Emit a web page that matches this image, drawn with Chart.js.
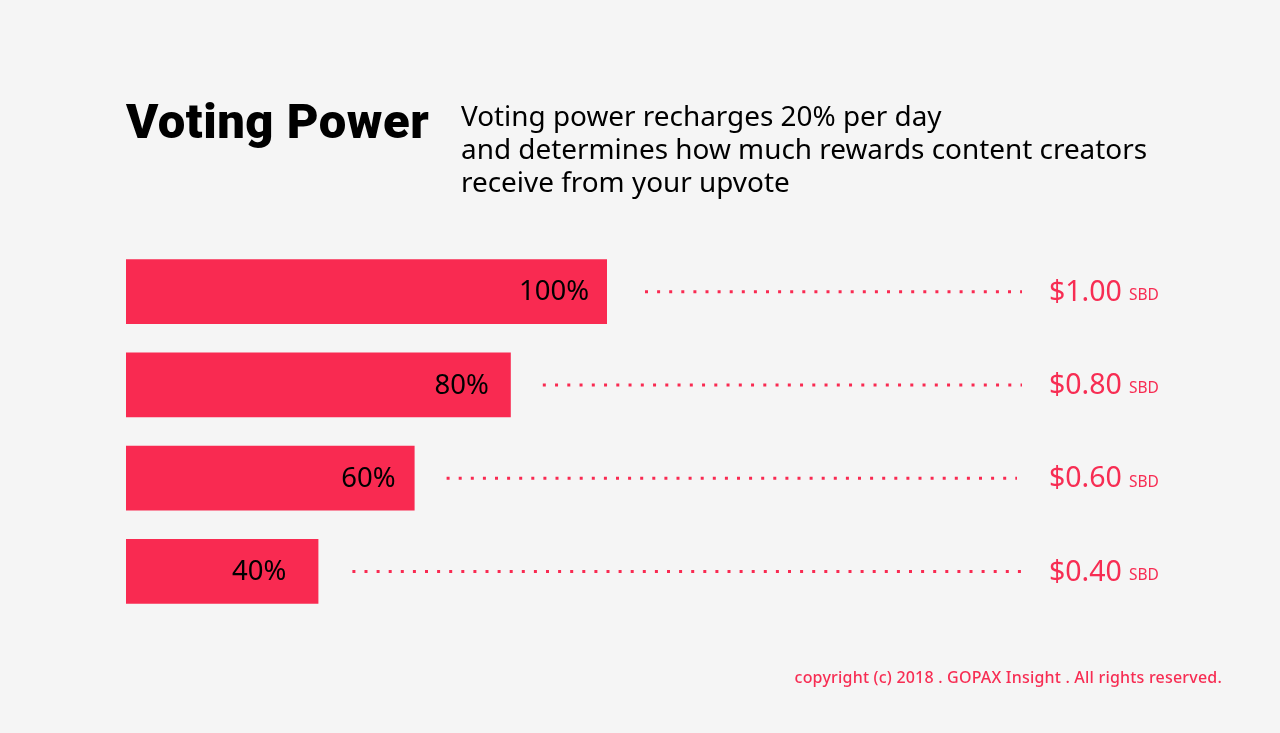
<!DOCTYPE html>
<html>
<head>
<meta charset="utf-8">
<script src="https://cdn.jsdelivr.net/npm/chart.js@4/dist/chart.umd.min.js"></script>
<style>
html, body { margin: 0; padding: 0; background: #f5f5f5; }
#wrap { position: relative; width: 1280px; height: 733px; overflow: hidden; font-family: "Noto Sans", sans-serif; color: #000; }
#wrap div { position: absolute; white-space: nowrap; }
#title { left: 126px; top: 86px; font-family: Roboto, sans-serif; font-size: 49px; font-weight: 900; line-height: 72px; letter-spacing: 0.5px; }
#subtitle { left: 461px; top: 99px; font-size: 27.9px; line-height: 33px; }
#copyright { right: 58px; top: 665px; font-size: 16px; font-weight: 500; line-height: 24px; letter-spacing: 0.2px; color: #f72d53; }
canvas { position: absolute; left: 0; top: 0; }
</style>
</head>
<body>
<div id="wrap">
  <canvas id="powerChart" width="1280" height="733"></canvas>
  <div id="title">Voting Power</div>
  <div id="subtitle">Voting power recharges 20% per day<br>and determines how much rewards content creators<br>receive from your upvote</div>
  <div id="copyright">copyright (c) 2018 . GOPAX Insight . All rights reserved.</div>
</div>
<script>
const categories = ["100%", "80%", "60%", "40%"];
const powerValues = [100, 80, 60, 40];
const rewardLabels = ["$1.00", "$0.80", "$0.60", "$0.40"];
const rewardUnit = "SBD";

const red = "#f92a51";
const textRed = "#f72d53";
const fontName = '"Noto Sans", sans-serif';

// gap between bar end and label / dotted line, per row
const labelInset = [18, 22, 19, 32];
const dotsStart = [38, 32, 32, 34];
const dotsEnd = [1022, 1022, 1017, 1022];
const dotsGap = [9.1, 9.25, 9.1, 9.1];

const rowDecor = {
    id: "rowDecor",
    afterDatasetsDraw(chart) {
        const c = chart.ctx;
        const x = chart.scales.x;
        const y = chart.scales.y;
        c.save();
        categories.forEach((cat, i) => {
            const barEnd = x.getPixelForValue(powerValues[i]);
            const mid = y.getPixelForValue(i);

            c.fillStyle = "#000";
            c.font = "27.5px " + fontName;
            c.textAlign = "right";
            c.textBaseline = "middle";
            c.fillText(cat, barEnd - labelInset[i], mid + 1);

            c.strokeStyle = red;
            c.lineWidth = 3;
            c.setLineDash([3, dotsGap[i]]);
            c.beginPath();
            c.moveTo(barEnd + dotsStart[i], mid);
            c.lineTo(dotsEnd[i], mid);
            c.stroke();
            c.setLineDash([]);

            c.fillStyle = textRed;
            c.textAlign = "left";
            c.font = "28.5px " + fontName;
            c.fillText(rewardLabels[i], 1049, mid + 1);
            c.font = "15.5px " + fontName;
            c.fillText(rewardUnit, 1129, mid + 4);
        });
        c.restore();
    }
};

new Chart(document.getElementById("powerChart").getContext("2d"), {
    type: "bar",
    data: {
        labels: categories,
        datasets: [{
            data: powerValues,
            backgroundColor: red,
            barPercentage: 0.697,
            categoryPercentage: 1
        }]
    },
    plugins: [rowDecor],
    options: {
        indexAxis: "y",
        responsive: false,
        animation: false,
        layout: { padding: { left: 126, right: 192, top: 245, bottom: 115 } },
        plugins: { legend: { display: false }, tooltip: { enabled: false } },
        scales: {
            x: { display: false, min: 0, max: 200 },
            y: { display: false }
        }
    }
});
</script>
</body>
</html>
